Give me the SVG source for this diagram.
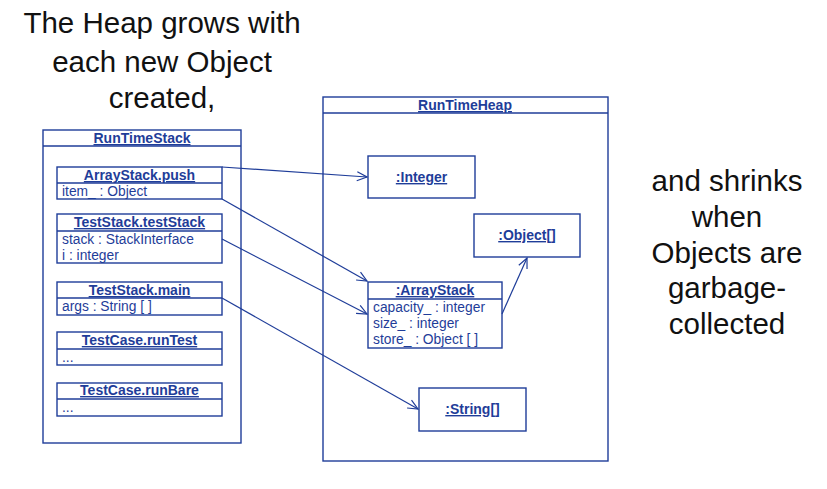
<svg xmlns="http://www.w3.org/2000/svg" width="827" height="489" viewBox="0 0 827 489">
<defs>
<style>
.box{fill:#fff;stroke:#1f3d99;stroke-width:1.4}
.ln{stroke:#1f3d99;stroke-width:1.4;fill:none}
.hd{font-family:"Liberation Sans",Arial,sans-serif;font-size:14px;font-weight:bold;fill:#1f3d99;text-decoration:underline;text-anchor:middle}
.at{font-family:"Liberation Sans",Arial,sans-serif;font-size:13.8px;fill:#1f3d99}
.big{font-family:"Liberation Sans",Arial,sans-serif;font-size:29.5px;fill:#111;text-anchor:middle}
.con{stroke:#1f3d99;stroke-width:1.2;fill:none}
</style>
<marker id="arr" markerWidth="12" markerHeight="12" viewBox="0 0 12 12" refX="11" refY="6" orient="auto" markerUnits="userSpaceOnUse">
<path d="M1,1.5 L11,6 L1,10.5" fill="none" stroke="#1f3d99" stroke-width="1.2"/>
</marker>
</defs>
<rect width="827" height="489" fill="#fff"/>

<g id="caption-left">
<text class="big" x="162" y="33">The Heap grows with</text>
<text class="big" x="162" y="72">each new Object</text>
<text class="big" x="162" y="108">created,</text>
</g>
<g id="caption-right">
<text class="big" x="727" y="191">and shrinks</text>
<text class="big" x="727" y="227">when</text>
<text class="big" x="727" y="263">Objects are</text>
<text class="big" x="727" y="298">garbage-</text>
<text class="big" x="727" y="334">collected</text>
</g>

<g id="RunTimeStack">
<rect class="box" x="43" y="130" width="198" height="313"/>
<line class="ln" x1="43" y1="146" x2="241" y2="146"/>
<text class="hd" x="142" y="143">RunTimeStack</text>
</g>
<g id="RunTimeHeap">
<rect class="box" x="323" y="97" width="285" height="364"/>
<line class="ln" x1="323" y1="113" x2="608" y2="113"/>
<text class="hd" x="465" y="110">RunTimeHeap</text>
</g>

<g id="ArrayStack.push">
<rect class="box" x="57" y="167" width="165" height="32"/>
<line class="ln" x1="57" y1="183" x2="222" y2="183"/>
<text class="hd" x="139.5" y="180">ArrayStack.push</text>
<text class="at" x="62" y="196">item_ : Object</text>
</g>
<g id="TestStack.testStack">
<rect class="box" x="57" y="214" width="165" height="49"/>
<line class="ln" x1="57" y1="231" x2="222" y2="231"/>
<text class="hd" x="139.5" y="227">TestStack.testStack</text>
<text class="at" x="62" y="244">stack : StackInterface</text>
<text class="at" x="62" y="260">i : integer</text>
</g>
<g id="TestStack.main">
<rect class="box" x="57" y="282" width="165" height="33"/>
<line class="ln" x1="57" y1="298" x2="222" y2="298"/>
<text class="hd" x="139.5" y="295">TestStack.main</text>
<text class="at" x="62" y="311">args : String [ ]</text>
</g>
<g id="TestCase.runTest">
<rect class="box" x="57" y="332" width="165" height="33"/>
<line class="ln" x1="57" y1="349" x2="222" y2="349"/>
<text class="hd" x="139.5" y="345">TestCase.runTest</text>
<text class="at" x="62" y="362">...</text>
</g>
<g id="TestCase.runBare">
<rect class="box" x="57" y="383" width="165" height="33"/>
<line class="ln" x1="57" y1="399" x2="222" y2="399"/>
<text class="hd" x="139.5" y="395">TestCase.runBare</text>
<text class="at" x="62" y="412">...</text>
</g>

<g id="Integer">
<rect class="box" x="368" y="156" width="107" height="42"/>
<text class="hd" x="421.5" y="182">:Integer</text>
</g>
<g id="ObjectArray">
<rect class="box" x="474" y="214" width="106" height="43"/>
<text class="hd" x="527" y="240">:Object[]</text>
</g>
<g id="ArrayStack">
<rect class="box" x="368" y="282" width="134" height="66"/>
<line class="ln" x1="368" y1="299" x2="502" y2="299"/>
<text class="hd" x="435" y="295">:ArrayStack</text>
<text class="at" x="373" y="312">capacity_ : integer</text>
<text class="at" x="373" y="328">size_ : integer</text>
<text class="at" x="373" y="344">store_ : Object [ ]</text>
</g>
<g id="StringArray">
<rect class="box" x="419" y="388" width="107" height="43"/>
<text class="hd" x="472.5" y="414">:String[]</text>
</g>

<g id="connectors">
<line class="con" x1="222" y1="167" x2="367" y2="177" marker-end="url(#arr)"/>
<line class="con" x1="222" y1="199" x2="367" y2="281" marker-end="url(#arr)"/>
<line class="con" x1="222" y1="239" x2="367" y2="314" marker-end="url(#arr)"/>
<line class="con" x1="222" y1="298" x2="418" y2="409" marker-end="url(#arr)"/>
<line class="con" x1="502" y1="314" x2="527" y2="258" marker-end="url(#arr)"/>
</g>
</svg>
